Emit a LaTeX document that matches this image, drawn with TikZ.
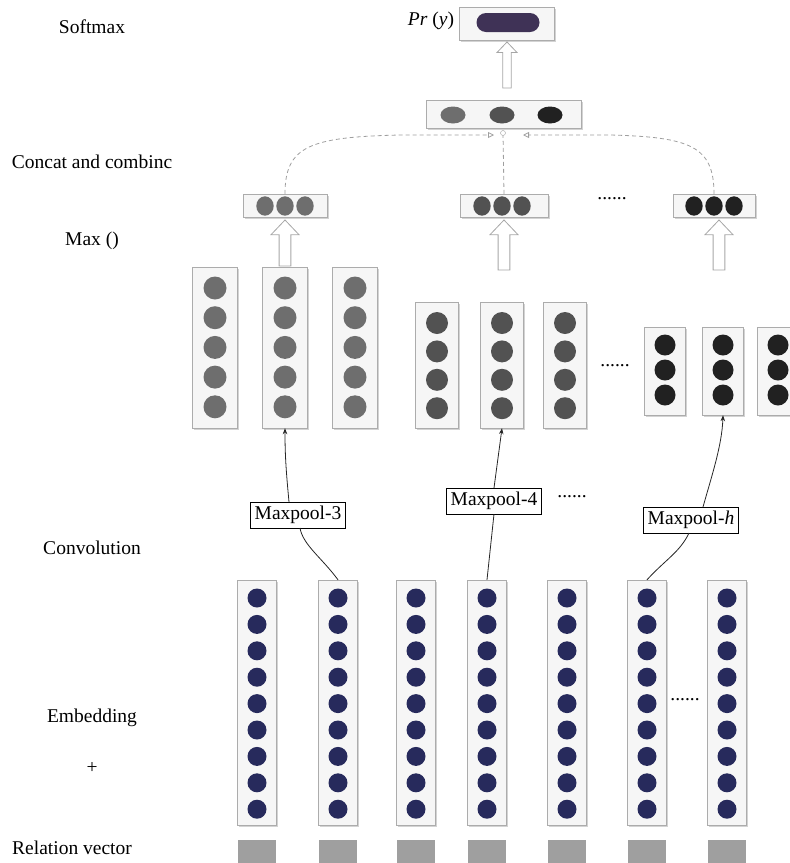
\documentclass[tikz,border=0pt]{standalone}
\usepackage{fontspec}
\setmainfont{Liberation Serif}
\usetikzlibrary{arrows.meta,shadows}

\definecolor{navy}{HTML}{272A5C}
\definecolor{dotA}{HTML}{6E6E6E}
\definecolor{dotB}{HTML}{525252}
\definecolor{dotC}{HTML}{212121}
\definecolor{pill}{HTML}{3F3256}

% hollow up arrow: x, top, bottom, half head width
\newcommand{\hollowup}[4]{%
  \draw[hollow] ({#1-0.42*#4},#3) -- ({#1-0.42*#4},{#2+1.05*#4})
    -- ({#1-#4},{#2+1.05*#4}) -- (#1,#2) -- ({#1+#4},{#2+1.05*#4})
    -- ({#1+0.42*#4},{#2+1.05*#4}) -- ({#1+0.42*#4},#3) -- cycle;}

\begin{document}
\begin{tikzpicture}[%
    x=1pt,
    y=-1pt,
    >={Stealth[length=6pt,width=4.5pt]},
    font=\fontsize{19.5}{23}\selectfont,
    col/.style={%
      draw=gray!65,
      fill=gray!7,
      inner sep=0pt,
      drop shadow={shadow xshift=1.5pt,shadow yshift=-1.5pt,opacity=0.35}
    },
    rel/.style={%
      fill=gray!75,
      minimum width=38,
      minimum height=26,
      inner sep=0pt
    },
    lbl/.style={%
      draw,
      fill=white,
      inner sep=4pt
    },
    pool/.style={%
      draw=gray!30!black,
      line width=0.8pt
    },
    hollow/.style={%
      draw=gray!70,
      fill=white,
      line width=0.8pt
    },
    link/.style={%
      draw=gray!75,
      line width=0.8pt,
      dash pattern=on 4pt off 3pt
    }
  ]
    \clip (0,0) rectangle (790,863);

    % left captions
    \node (lsoft)   at (92,27)  {Softmax};
    \node (lconcat) at (92,162) {Concat and combinc};
    \node (lmax)    at (92,241) {Max ()};
    \node (lconv)   at (92,548) {Convolution};
    \node (lemb)    at (92,718) {Embedding};
    \node (lplus)   at (92,768) {+};
    \node (lrel)    at (72,848) {Relation vector};

    % embedding columns and relation vector
    \foreach \cx [count=\k] in {257,338,416,487,567,647,727} {
      \node[col,minimum width=39,minimum height=245] (e\k) at (\cx,702.5) {};
      \foreach \i in {0,...,8}
        \fill[navy] (\cx,{598+26.4*\i}) circle (9.5);
      \node[rel] (r\k) at (\cx,853) {};
    }
    \node (d4) at (685,700) {......};

    % convolution maps
    \foreach \cx [count=\k] in {215,285,355} {
      \node[col,minimum width=45,minimum height=161] (c\k) at (\cx,347.5) {};
      \foreach \i in {0,...,4}
        \fill[dotA] (\cx,{288+29.7*\i}) circle (11.5);
    }
    \foreach \cx [count=\k from 4] in {437,502,565} {
      \node[col,minimum width=43,minimum height=126] (c\k) at (\cx,365) {};
      \foreach \i in {0,...,3}
        \fill[dotB] (\cx,{323+28.4*\i}) circle (11);
    }
    \foreach \cx [count=\k from 7] in {665,723,778} {
      \node[col,minimum width=41,minimum height=88] (c\k) at (\cx,371) {};
      \foreach \i in {0,...,2}
        \fill[dotC] (\cx,{345+25*\i}) circle (10.5);
    }
    \node (d1) at (615,366) {......};

    % pooling labels
    \node[lbl] (mp3) at (298,515) {Maxpool-3};
    \node[lbl] (mp4) at (494,501) {Maxpool-4};
    \node[lbl] (mph) at (691,520) {Maxpool-\textit{h}};
    \node (d3) at (572,497) {......};

    \draw[pool] (e2.north) .. controls (322,558) and (303,545) .. ([xshift=2pt]mp3.south);
    \draw[pool,->] ([xshift=-9pt]mp3.north) .. controls (286,470) and (285,455) .. (c2.south);
    \draw[pool] (e4.north) -- (mp4.south);
    \draw[pool,->] (mp4.north) -- (c5.south);
    \draw[pool] (e6.north) .. controls (665,560) and (680,552) .. ([xshift=-2pt]mph.south);
    \draw[pool,->] ([xshift=12pt]mph.north) .. controls (712,475) and (722,445) .. (c8.south);

    % max boxes
    \node[col,minimum width=84,minimum height=23] (m1) at (285,205.5) {};
    \node[col,minimum width=88,minimum height=23] (m2) at (504,205.5) {};
    \node[col,minimum width=82,minimum height=23] (m3) at (714,205.5) {};
    \foreach \dx in {-20,0,20} {
      \fill[dotA] (285+\dx,206) ellipse (8.7 and 9.7);
      \fill[dotB] (502+\dx,206) ellipse (8.7 and 9.7);
      \fill[dotC] (714+\dx,206) ellipse (8.7 and 9.7);
    }
    \node (d2) at (612,199) {......};

    \hollowup{285}{220}{266}{14}
    \hollowup{504}{220}{270}{14}
    \hollowup{719}{220}{270}{14}

    % concat box
    \node[col,minimum width=155,minimum height=28] (cc) at (504,114) {};
    \fill[dotA] (453,115) ellipse (12.5 and 8.5);
    \fill[dotB] (502,115) ellipse (12.5 and 8.5);
    \fill[dotC] (550,115) ellipse (12.5 and 8.5);

    \coordinate (jl) at (494,135);
    \coordinate (jr) at (523,135);
    \node[circle,draw=gray!75,fill=white,inner sep=0pt,minimum size=5] (jc) at (503,133) {};
    \draw[link,-{Triangle[open,length=6pt,width=6pt]}] (m1.north) .. controls (285,146) and (310,137) .. (400,135) -- (jl);
    \draw[link,-{Triangle[open,length=6pt,width=6pt]}] (m3.north) .. controls (714,146) and (690,137) .. (610,135) -- (jr);
    \draw[link] (m2.north) -- (jc);

    % softmax
    \hollowup{507}{42}{88}{10}
    \node[col,minimum width=95,minimum height=33] (sm) at (507,23.5) {};
    \node[fill=pill,rounded corners=9.5pt,minimum width=63,minimum height=19,inner sep=0pt] (py) at (508,22.5) {};
    \node (pr) at (431,21) {\textit{Pr} (\textit{y})};
  \end{tikzpicture}
\end{document}
